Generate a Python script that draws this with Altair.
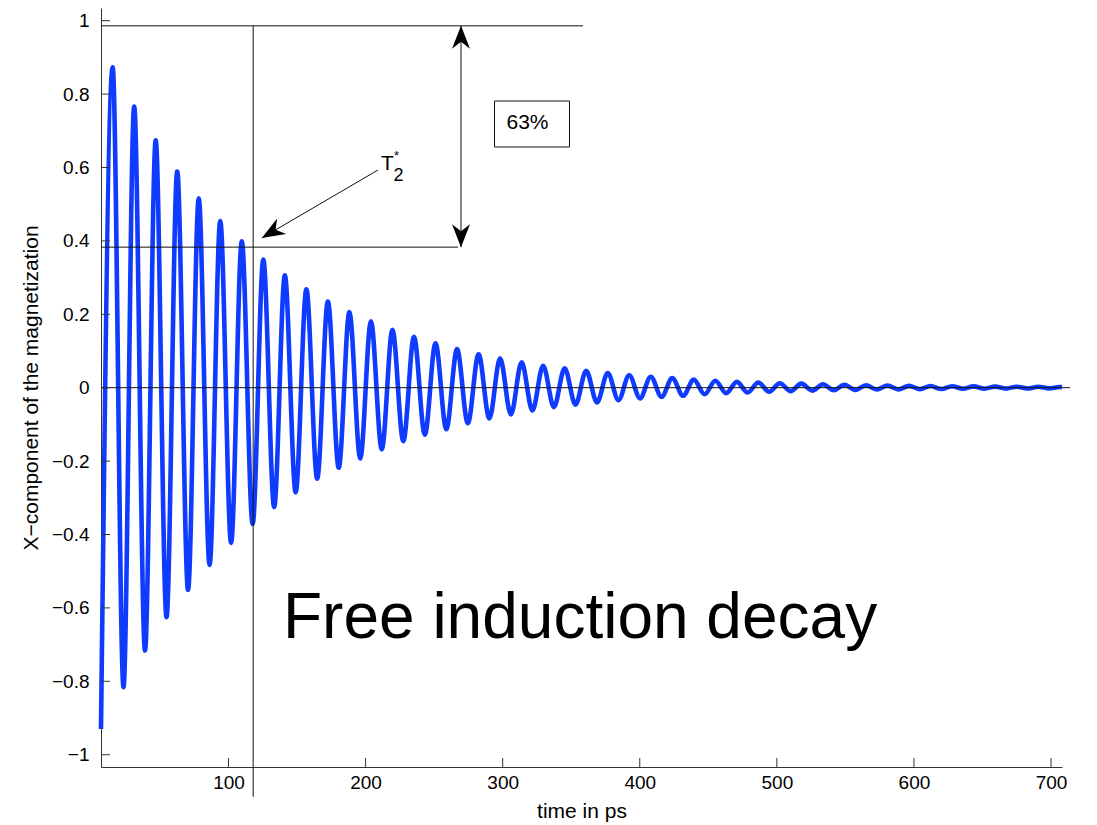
import altair as alt
import pandas as pd

# ---- data ----
peak_t = [15.5, 31.2, 46.9, 62.6, 78.3, 94.0, 109.7, 125.4, 141.1, 156.8, 172.5, 188.2,
          203.9, 219.6, 235.3, 251.0, 266.7, 282.4, 298.1, 313.8, 329.5, 345.2, 360.9,
          376.6, 392.3, 408.0, 423.7, 439.4, 455.1, 470.8, 486.5, 502.2, 517.9, 533.6,
          549.3, 565.0, 580.7, 596.4, 612.1, 627.8, 643.5, 659.2, 674.9, 690.6, 706.3]
peak_v = [0.873, 0.766, 0.674, 0.589, 0.516, 0.454, 0.399, 0.349, 0.306, 0.268, 0.235, 0.206,
          0.181, 0.158, 0.139, 0.121, 0.105, 0.091, 0.080, 0.069, 0.060, 0.053, 0.046,
          0.040, 0.034, 0.030, 0.026, 0.022, 0.019, 0.016, 0.014, 0.012, 0.011, 0.0095,
          0.008, 0.0068, 0.0058, 0.005, 0.0045, 0.004, 0.0035, 0.003, 0.0027, 0.0024, 0.0021]
trough_t = [7.0, 23.4, 39.1, 54.8, 70.5, 86.2, 101.9, 117.6, 133.3, 149.0, 164.7, 180.4,
            196.1, 211.8, 227.5, 243.2, 258.9, 274.6, 290.3, 306.0, 321.7, 337.4, 353.1,
            368.8, 384.5, 400.2, 415.9, 431.6, 447.3, 463.0, 478.7, 494.4, 510.1, 525.8,
            541.5, 557.2, 572.9, 588.6, 604.3, 620.0, 635.7, 651.4, 667.1, 682.8, 698.5]
trough_v = [-0.93, -0.816, -0.716, -0.625, -0.551, -0.483, -0.423, -0.371, -0.325, -0.285,
            -0.248, -0.218, -0.193, -0.168, -0.146, -0.128, -0.113, -0.097, -0.084, -0.073,
            -0.062, -0.053, -0.046, -0.040, -0.034, -0.029, -0.025, -0.022, -0.018, -0.015,
            -0.013, -0.011, -0.0095, -0.008, -0.007, -0.006, -0.005, -0.0045, -0.004,
            -0.0035, -0.003, -0.0027, -0.0024, -0.0021, -0.0019]
end_t = [708.0]
end_v = [0.0015]

x_ticks = [100, 200, 300, 400, 500, 600, 700]
y_ticks = [-1, -0.8, -0.6, -0.4, -0.2, 0, 0.2, 0.4, 0.6, 0.8, 1]

t2_time = 118.0
level_top = 0.986
level_63 = 0.383
x_min, x_max = 7.0, 708.0
y_min, y_max = -1.0335, 1.0346

# ---- tables ----
rows = sorted(zip(peak_t + trough_t + end_t, peak_v + trough_v + end_v))
sig = pd.DataFrame(rows, columns=["t", "v"])

hrules = pd.DataFrame({"t": [x_min, x_min, x_min], "t2": [714.0, 358.6, 267.4],
                       "v": [0.0, level_top, level_63]})
vrules = pd.DataFrame({"t": [t2_time, 269.6], "v": [level_top, level_top],
                       "v2": [-1.115, level_63]})
t2arrow = pd.DataFrame({"t": [209.0], "v": [0.593], "t2": [124.3], "v2": [0.408]})
heads = pd.DataFrame({"t": [269.6, 269.6, 124.3], "v": [level_top, level_63, 0.408],
                      "angle": [0.0, 180.0, 239.6]})
xt = pd.DataFrame({"t": x_ticks})
yt = pd.DataFrame({"v": y_ticks})
one = pd.DataFrame({"k": [0]})

W, H = 961, 759
FONT = "Liberation Sans"
xs = alt.Scale(domain=[x_min, x_max], nice=False, zero=False)
ys = alt.Scale(domain=[y_min, y_max], nice=False, zero=False)
XT = "time in ps"
YT = "X\u2212component of the magnetization"

line = alt.Chart(sig).mark_line(color="#0F3BFF", strokeWidth=4.6, interpolate="monotone").encode(
    x=alt.X("t:Q", scale=xs, title=XT, axis=alt.Axis(values=x_ticks, labelPadding=6,
                                                      titlePadding=8, format="d")),
    y=alt.Y("v:Q", scale=ys, title=YT, axis=alt.Axis(values=y_ticks, labelPadding=12,
                                                      titlePadding=10, format="~g")),
)

ink = "#111111"
hr = alt.Chart(hrules).mark_rule(color=ink, strokeWidth=1).encode(
    x=alt.X("t:Q", scale=xs, title=XT), x2="t2:Q", y=alt.Y("v:Q", scale=ys, title=YT))
vr = alt.Chart(vrules).mark_rule(color=ink, strokeWidth=1).encode(
    x=alt.X("t:Q", scale=xs, title=XT), y=alt.Y("v:Q", scale=ys, title=YT), y2="v2:Q")
ar = alt.Chart(t2arrow).mark_rule(color=ink, strokeWidth=1).encode(
    x=alt.X("t:Q", scale=xs, title=XT), y=alt.Y("v:Q", scale=ys, title=YT),
    x2="t2:Q", y2="v2:Q")
head_path = "M0,0 L0.45,1.15 L0,0.8 L-0.45,1.15 Z"
hd = alt.Chart(heads).mark_point(shape=head_path, filled=True, color="#000000", size=1600,
                                  opacity=1, strokeWidth=0).encode(
    x=alt.X("t:Q", scale=xs, title=XT), y=alt.Y("v:Q", scale=ys, title=YT),
    angle=alt.Angle("angle:Q", scale=None))

xtk = alt.Chart(xt).mark_rule(color="#333333", strokeWidth=1).encode(
    x=alt.X("t:Q", scale=xs, title=XT), y=alt.value(H), y2=alt.value(H - 9))
ytk = alt.Chart(yt).mark_rule(color="#333333", strokeWidth=1).encode(
    y=alt.Y("v:Q", scale=ys, title=YT), x=alt.value(0), x2=alt.value(9))

box = alt.Chart(one).mark_rect(fill="white", stroke="#111111", strokeWidth=1).encode(
    x=alt.value(393.5), x2=alt.value(468.5), y=alt.value(93), y2=alt.value(139))
pct = alt.Chart(one).mark_text(text="63%", font=FONT, fontSize=21, align="left",
                                baseline="alphabetic", color="black").encode(
    x=alt.value(405.5), y=alt.value(121))
tT = alt.Chart(one).mark_text(text="T", font=FONT, fontSize=21, align="left",
                               baseline="alphabetic", color="black").encode(
    x=alt.value(280), y=alt.value(162))
t2 = alt.Chart(one).mark_text(text="2", font=FONT, fontSize=18, align="left",
                               baseline="alphabetic", color="black").encode(
    x=alt.value(292.5), y=alt.value(173))
tstar = alt.Chart(one).mark_text(text="*", font=FONT, fontSize=13, align="left",
                                  baseline="alphabetic", color="black").encode(
    x=alt.value(293), y=alt.value(152))
big = alt.Chart(one).mark_text(text="Free induction decay", font=FONT, fontSize=64,
                                align="left", baseline="alphabetic", color="black").encode(
    x=alt.value(182), y=alt.value(630))

chart = alt.layer(line, hr, vr, ar, hd, xtk, ytk, box, pct, tT, t2, tstar, big).properties(
    width=W, height=H,
    padding={"left": 93, "top": 0, "right": 25, "bottom": 55},
    autosize=alt.AutoSizeParams(type="none"),
    background="white",
).configure_view(stroke=None).configure_axis(
    domainColor="#333333", domainWidth=1, ticks=False, tickSize=0, grid=False,
    labelFont=FONT, labelFontSize=19, labelColor="black",
    titleFont=FONT, titleFontSize=21, titleFontWeight="normal", titleColor="black",
)

chart.save("out.html", embed_options={"renderer": "svg", "actions": False})
